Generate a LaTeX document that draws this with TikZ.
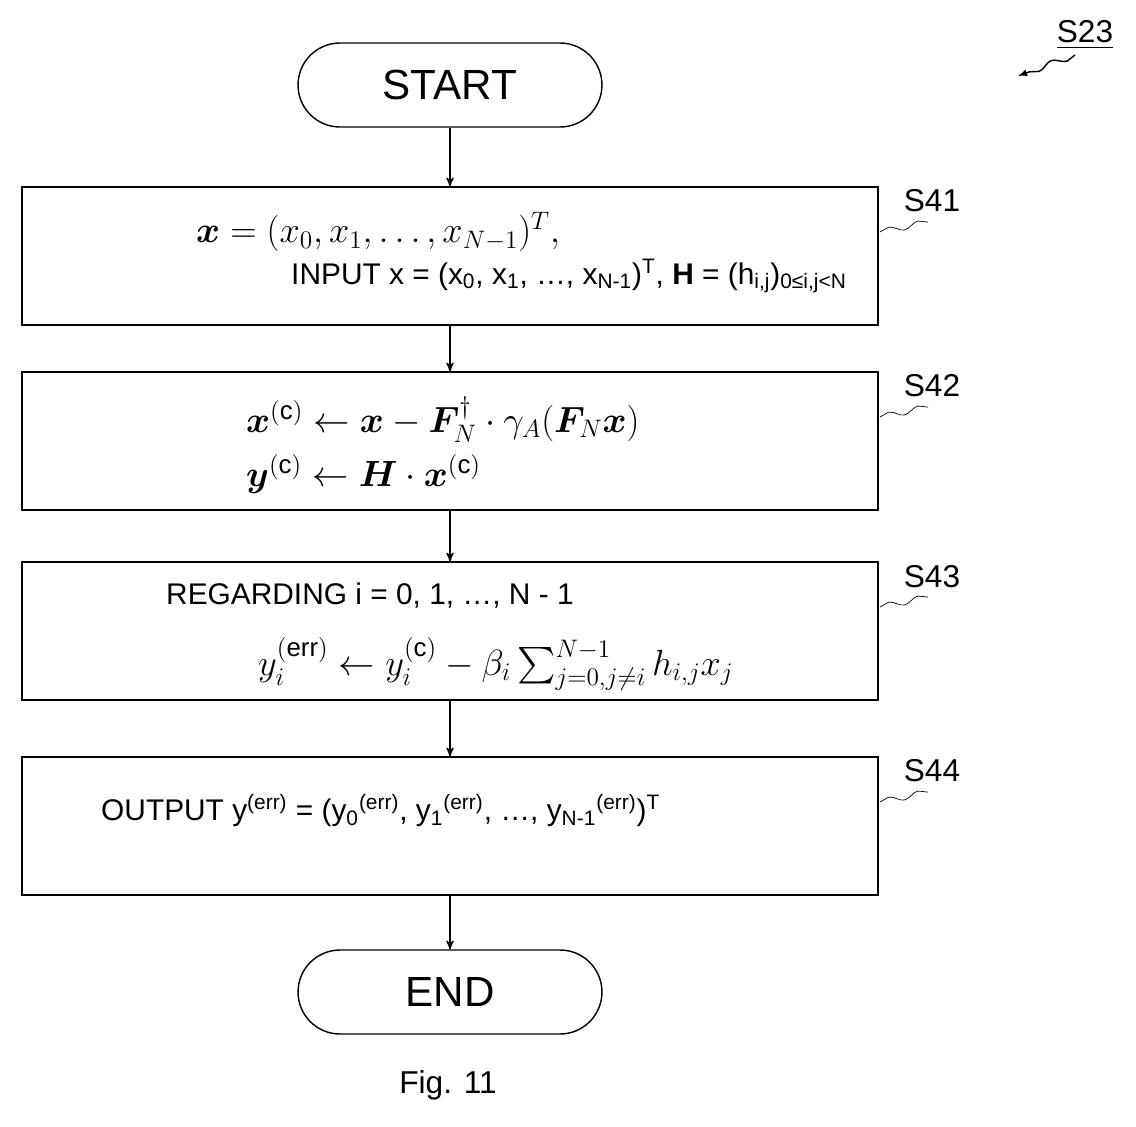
\documentclass[tikz,border=0pt]{standalone}
\usepackage{fontspec}
\usepackage{amsmath,bm}
\setmainfont{Liberation Sans}
\usetikzlibrary{arrows,decorations.pathmorphing}
\tikzset{
  term/.style = {draw=black, thick, rounded corners=0.84cm, minimum width=6.08cm,
    minimum height=1.68cm, font=\fontsize{24}{28}\selectfont},
  proc/.style = {draw=black, thick, minimum width=17.12cm, minimum height=2.76cm},
  lab/.style = {font=\fontsize{18}{22}\selectfont},
  txt/.style = {font=\fontsize{17}{20}\selectfont, anchor=west},
  squig/.style = {thin, decorate, decoration={snake, amplitude=0.6mm, segment length=6mm}}
}
\begin{document}
\begin{tikzpicture}[->,>=stealth',x=0.02cm,y=-0.02cm]
  \useasboundingbox (0,0) rectangle (1136,1126);
  \node [term] (start) at (450,85) {START};
  \node [proc] (s41) at (450,256) {};
  \node [proc] (s42) at (450,441) {};
  \node [proc] (s43) at (450,631) {};
  \node [proc] (s44) at (450,826) {};
  \node [term] (end) at (450,992) {END};
  \draw [thick] (start) -- (s41);
  \draw [thick] (s41) -- (s42);
  \draw [thick] (s42) -- (s43);
  \draw [thick] (s43) -- (s44);
  \draw [thick] (s44) -- (end);
  % step texts
  \node [txt, font=\fontsize{21}{24}\selectfont] (t41a) at (190,232)
    {$\bm{x}=(x_0,x_1,\dots,x_{N-1})^T,$};
  \node [txt] (t41b) at (285,276)
    {INPUT x = (x\textsubscript{0}, x\textsubscript{1}, \dots, x\textsubscript{N-1})\textsuperscript{T}, \textbf{H} = (h\textsubscript{i,j})\textsubscript{0≤i,j<N}};
  \node [txt, font=\fontsize{21}{24}\selectfont] (t42a) at (240,420)
    {$\bm{x}^{(\mathrm{c})}\leftarrow\bm{x}-\bm{F}_N^{\dagger}\cdot\gamma_A(\bm{F}_N\bm{x})$};
  \node [txt, font=\fontsize{21}{24}\selectfont] (t42b) at (240,474)
    {$\bm{y}^{(\mathrm{c})}\leftarrow\bm{H}\cdot\bm{x}^{(\mathrm{c})}$};
  \node [txt] (t43a) at (160,596) {REGARDING i = 0, 1, \dots, N - 1};
  \node [txt, font=\fontsize{21}{24}\selectfont] (t43b) at (252,664)
    {$y_i^{(\mathrm{err})}\leftarrow y_i^{(\mathrm{c})}-\beta_i\textstyle\sum_{j=0,j\neq i}^{N-1}h_{i,j}x_j$};
  \node [txt] (t44) at (95,811)
    {OUTPUT y\textsuperscript{(err)} = (y\textsubscript{0}\textsuperscript{(err)}, y\textsubscript{1}\textsuperscript{(err)}, \dots, y\textsubscript{N-1}\textsuperscript{(err)})\textsuperscript{T}};
  % step labels
  \node [lab] (l41) at (932,201) {S41};
  \node [lab] (l42) at (932,386) {S42};
  \node [lab] (l43) at (932,577) {S43};
  \node [lab] (l44) at (932,771) {S44};
  \draw [-, squig] (880,232) -- (928,222);
  \draw [-, squig] (880,417) -- (928,407);
  \draw [-, squig] (880,607) -- (928,597);
  \draw [-, squig] (880,802) -- (928,792);
  \node [lab] (s23) at (1085,35) {\underline{S23}};
  \coordinate (s23t) at (1018,76);
  \draw [squig, -latex, thick] (1075,55) -- (s23t);
  \node [lab] (fig) at (448,1085) {Fig. 11};
\end{tikzpicture}
\end{document}
